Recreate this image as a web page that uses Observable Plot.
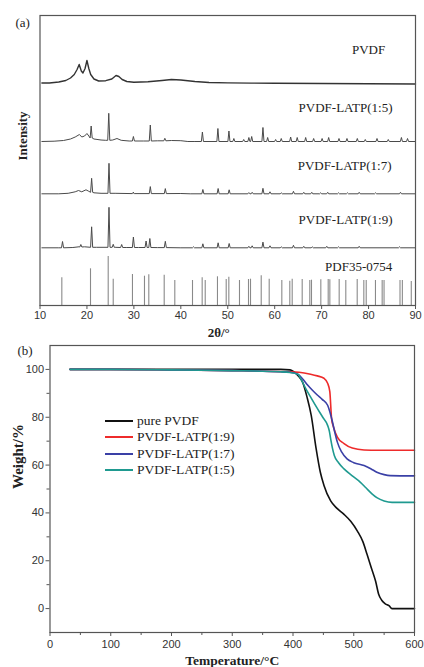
<!DOCTYPE html>
<html><head><meta charset="utf-8">
<script src="https://cdn.jsdelivr.net/npm/d3@7"></script>
<script src="https://cdn.jsdelivr.net/npm/@observablehq/plot@0.6"></script>
<style>
body{margin:0;background:#fff;}
#fig{position:relative;width:424px;height:667px;overflow:hidden;background:#fff;}
#a{position:absolute;left:0;top:0;}
#b{position:absolute;left:0;top:340px;}
#legend{position:absolute;left:105px;top:412.5px;font-family:"Liberation Serif","Times New Roman",serif;font-size:13.5px;color:#222;}
.row{display:flex;align-items:center;height:16.5px;white-space:nowrap;}
.sw{width:28px;height:0;border-top:2px solid;margin-right:4px;}
</style></head><body>
<div id="fig"><div id="a"></div><div id="b"></div><div id="legend"></div></div>
<script>
// ---------- Panel (a): XRD ----------
const xrdTicks = [10,20,30,40,50,60,70,80,90];
const xrdNames = ["PVDF","PVDF-LATP(1:5)","PVDF-LATP(1:7)","PVDF-LATP(1:9)","PDF35-0754"];

// PVDF pattern: [2θ, intensity]
const pvdfPts = [[10.4,0.5],[12,0.5],[14,1.5],[15.5,3],[16.5,5.5],[17.3,9],[17.9,14],[18.35,19],[18.8,12.5],[19.15,10.5],[19.6,15],[20.0,23],[20.4,15],[20.8,9],[21.5,4.5],[22.5,2.5],[24,2.8],[25.3,4.5],[26.2,8],[26.8,7],[27.5,4],[28.5,2],[30,1.2],[33,1.8],[36,3],[38,4],[40,3.5],[43,2],[46,1],[50,0.6],[55,0.4],[60,0.2],[70,0],[80,-0.3],[90,-0.5]];

// LATP composites: background [2θ, intensity] and peaks [2θ, base, height]
const bg15 = [[10.4,0],[13,0.3],[15,1],[16.5,2.5],[17.5,4.5],[18.4,7],[18.9,4.5],[19.5,5.5],[20.0,8],[20.4,5.5],[21.5,2.5],[23,1.5],[24,1.2],[25.5,1.5],[26.4,3],[27.3,1.2],[29,0.5],[32,0.5],[35,0.7],[38,1],[40,0.8],[41.5,0],[43,0],[90,0]];
const pk15 = [[20.9,3.5,12],[24.65,1.2,27],[29.9,0.5,4.5],[33.5,0.5,16],[36.6,0.7,2.5],[44.6,0,9.5],[47.9,0,13],[50.25,0,10.5],[51.3,0,3],[53.4,0,2],[54.5,0,4],[55.1,0,5],[57.5,0,14],[58.5,0,4],[60.2,0,2],[61.4,0,3],[63.4,0,4.5],[64.8,0,4],[66.6,0,4],[68.3,0,3],[70.1,0,3],[71.5,0,4],[73.7,0,3],[75.4,0,3],[77.6,0,3],[79.3,0,2],[81.8,0,3],[84.2,0,2],[87,0,4],[88.3,0,3]];

const bg17 = [[10.4,0],[14,0],[16,0.5],[17.5,2],[18.2,3.3],[18.9,2],[19.8,4],[20.4,2.5],[21.5,1],[23,0.5],[26,0.5],[30,0.2],[40,0.3],[42,0],[90,0]];
const pk17 = [[21.0,1.5,14],[24.7,0.5,30],[29.9,0.2,1.5],[33.5,0.2,7],[36.7,0.2,5],[44.7,0,4.3],[47.95,0,5.3],[50.3,0,4],[54.5,0,1.2],[55.2,0,1.5],[57.5,0,5.5],[59,0,2],[61.4,0,1],[64,0,2.5],[66.2,0,1.5],[67.9,0,1.5],[69.8,0,1],[71.3,0,1.5],[73.6,0,1],[75.5,0,1],[78,0,1.5],[81.5,0,1],[86.8,0,1.5]];

const bg19 = [[10.4,0],[14,0],[17,0.3],[18.3,1],[19.5,1],[22,0.5],[26,0.5],[28.5,0.3],[31,0.3],[35,0.2],[40,0],[90,0]];
const pk19 = [[14.8,0,6.3],[18.7,0.8,2.5],[21.0,0.5,20.5],[24.7,0.5,40],[25.6,0.5,3],[27.4,0.3,3],[29.9,0.3,10.5],[32.6,0.3,6.5],[33.4,0.3,9],[36.7,0.2,6.3],[42.7,0,1],[44.7,0,4],[47.95,0,5],[50.3,0,4.3],[54.5,0,1.5],[55.2,0,2],[57.5,0,5.7],[59,0,2],[61.4,0,1],[64,0,2.5],[66.2,0,1.5],[68,0,1],[71.1,0,1.5],[73.6,0,1],[78,0,1.5],[86.6,0,1]];

// PDF 35-0754 reference lines
const pdfPos = [14.65,20.76,24.53,25.6,29.7,32.26,33.18,36.46,38.72,42.49,44.55,45.2,47.81,49.67,50.23,52.5,54.42,54.85,57.13,58.83,61.52,63.22,63.73,65.86,67.48,67.84,69.83,71.4,71.75,73.74,75.15,77.58,78.99,79.5,81.47,82.9,83.3,86.7,87.2,89.1];
const pdfH   = [27.7,36.7,49,26.3,31,29.3,30.7,30.3,25,25,27.7,25,28.7,26,28.3,25,26,26.3,29.7,26.3,25,24.3,26.3,26,25,25.3,25.7,26,25.7,26,25,26,25,25,25,25,25,25,25,24];

// ---------- Panel (b): TGA ----------
const tgaNames = ["pure PVDF","PVDF-LATP(1:9)","PVDF-LATP(1:7)","PVDF-LATP(1:5)"];
const tBlack = [33,100,200,300,380,395,400,408,416,423,430,438,445,451,462,472,484,495,506,515,522,529,536,541,546,552,558,563,600];
const wBlack = [100,100,100,100,100,99.8,99.3,97.5,94.5,88.5,80.8,67,57,51.5,45,42,39.4,36.5,32.4,28,22.6,17,11.4,6,3.5,2,1.2,0,0];
const tRed = [33,100,200,300,390,410,429,440,451,457,460.6,463.5,466.6,473,484,497.6,517,540,600];
const wRed = [100,100,99.8,99.5,99,98.8,98,97.3,96.3,94.2,90.7,79.4,75.9,71.7,69,67.1,66.3,66.2,66.2];
const tBlue = [33,100,200,300,380,395,408,416,424,432,440,448,457,461,465,469,473,480,489,500,517,528,538,550,560,600];
const wBlue = [100,100,99.8,99.5,99,98.8,98,96,93.5,91.3,89.3,87.5,85,82,78,73.5,69.6,65.5,62.6,61,59.8,58.5,57,56,55.6,55.5];
const tTeal = [33,100,200,300,380,395,408,414,421,430,440,449,457,460,462,465,468,475,484,497,511,520,530,538,550,563,600];
const wTeal = [100,100,99.8,99.5,99,98.7,98,95.5,92,88,83.7,80,76.6,74,71,67,64,61,58.4,55.6,52.8,50.5,48,46.4,45,44.4,44.4];
const tempTicks = [0,100,200,300,400,500,600];
const tempMinor = [50,150,250,350,450,550];
const weightTicks = [0,20,40,60,80,100];
const weightMinor = [10,30,50,70,90];

// ---------- layout / style ----------
const serif = "'Liberation Serif','Times New Roman',serif";
const sans = "'Liberation Sans',Arial,sans-serif";
const HW = 0.22; // peak half width (deg)
const xrdBase = [222, 164, 111.7, 57.7];
const xrdLabelAt = [[80,256],[75.1,198],[74.9,140],[75.1,86],[77.9,38.5]];
const tgaColors = ["#111111","#ee2b2b","#3a40a6","#1f9a90"];

function pattern(bg, peaks, offset, name){
  const pts = bg.map(([x,y]) => ({x, y:y+offset}));
  for (const [p,b,h] of peaks) {
    pts.push({x:p-HW, y:b+offset},{x:p, y:b+h+offset},{x:p+HW, y:b+offset});
  }
  pts.sort((a,b)=>a.x-b.x);
  return pts.map(d=>({...d, name}));
}
const pvdfLine = pvdfPts.map(([x,y]) => ({x, y:y+xrdBase[0], name:xrdNames[0]}));
const latpLines = [
  ...pattern(bg15, pk15, xrdBase[1], xrdNames[1]),
  ...pattern(bg17, pk17, xrdBase[2], xrdNames[2]),
  ...pattern(bg19, pk19, xrdBase[3], xrdNames[3])
];
const pdfData = pdfPos.map((p,i)=>({p, h:pdfH[i]}));
const xrdLabels = xrdNames.map((n,i)=>({n, x:xrdLabelAt[i][0], y:xrdLabelAt[i][1]}));

const plotA = Plot.plot({
  width:424, height:340, marginTop:15, marginRight:9, marginBottom:35, marginLeft:39.5,
  style:{fontFamily:sans, fontSize:"11px", color:"#333", background:"white", overflow:"visible"},
  x:{domain:[10,90]},
  y:{domain:[0,290], axis:null},
  marks:[
    Plot.ruleX(pdfData, {x:"p", y1:0, y2:"h", stroke:"#8a8a8a", strokeWidth:1.1}),
    Plot.line(latpLines, {x:"x", y:"y", z:"name", stroke:"#4a4a4a", strokeWidth:1}),
    Plot.line(pvdfLine, {x:"x", y:"y", stroke:"#333", strokeWidth:1.4}),
    Plot.frame({stroke:"#555", strokeWidth:1.2}),
    Plot.axisX({ticks:xrdTicks, tickSize:4, tickPadding:2, label:null, stroke:"#555"}),
    Plot.text(xrdLabels, {x:"x", y:"y", text:"n", fontFamily:serif, fontSize:13, fill:"#222", textAnchor:"middle", lineAnchor:"middle"}),
    Plot.text(["Intensity"], {frameAnchor:"left", dx:-17.5, rotate:-90, fontFamily:serif, fontWeight:"bold", fontSize:13, fill:"#222"}),
    Plot.text(["2θ/°"], {frameAnchor:"bottom", dx:-9, dy:27, fontFamily:serif, fontWeight:"bold", fontSize:13, fill:"#222", lineAnchor:"middle"}),
    Plot.text(["(a)"], {frameAnchor:"top-left", dx:-24.5, dy:7, textAnchor:"start", lineAnchor:"middle", fontFamily:serif, fontSize:13, fill:"#222"})
  ]
});
document.getElementById("a").appendChild(plotA);

const tgaData = [
  ...tBlack.map((t,i)=>({t, w:wBlack[i], s:tgaNames[0]})),
  ...tRed.map((t,i)=>({t, w:wRed[i], s:tgaNames[1]})),
  ...tBlue.map((t,i)=>({t, w:wBlue[i], s:tgaNames[2]})),
  ...tTeal.map((t,i)=>({t, w:wTeal[i], s:tgaNames[3]}))
];

const plotB = Plot.plot({
  width:424, height:327, marginTop:5, marginRight:10, marginBottom:35, marginLeft:49.5,
  style:{fontFamily:sans, fontSize:"11px", color:"#333", background:"white"},
  x:{domain:[0,600]},
  y:{domain:[-10,110]},
  color:{domain:tgaNames, range:tgaColors},
  marks:[
    Plot.line(tgaData, {x:"t", y:"w", z:"s", stroke:"s", strokeWidth:1.6, curve:"monotone-x"}),
    Plot.frame({stroke:"#555", strokeWidth:1.2}),
    Plot.axisX({ticks:tempTicks, tickSize:4, tickPadding:4, label:null, stroke:"#555"}),
    Plot.axisX({ticks:tempMinor, tickSize:3, tickFormat:()=>"", label:null, stroke:"#555"}),
    Plot.axisY({ticks:weightTicks, tickSize:4, tickPadding:2, label:null, stroke:"#555"}),
    Plot.axisY({ticks:weightMinor, tickSize:3, tickFormat:()=>"", label:null, stroke:"#555"}),
    Plot.text(["Weight/%"], {frameAnchor:"left", dx:-31.5, rotate:-90, fontFamily:serif, fontWeight:"bold", fontSize:15, fill:"#222"}),
    Plot.text(["Temperature/°C"], {frameAnchor:"bottom", dy:28, fontFamily:serif, fontWeight:"bold", fontSize:13.5, fill:"#222", lineAnchor:"middle"}),
    Plot.text(["(b)"], {frameAnchor:"top-left", dx:-32.5, dy:5, textAnchor:"start", lineAnchor:"middle", fontFamily:serif, fontSize:13, fill:"#222"})
  ]
});
document.getElementById("b").appendChild(plotB);

// legend
const lg = document.getElementById("legend");
tgaNames.forEach((n,i)=>{
  const r = document.createElement("div"); r.className="row";
  const s = document.createElement("span"); s.className="sw"; s.style.borderTopColor = tgaColors[i];
  const t = document.createElement("span"); t.textContent = n;
  r.appendChild(s); r.appendChild(t); lg.appendChild(r);
});
</script></body></html>
